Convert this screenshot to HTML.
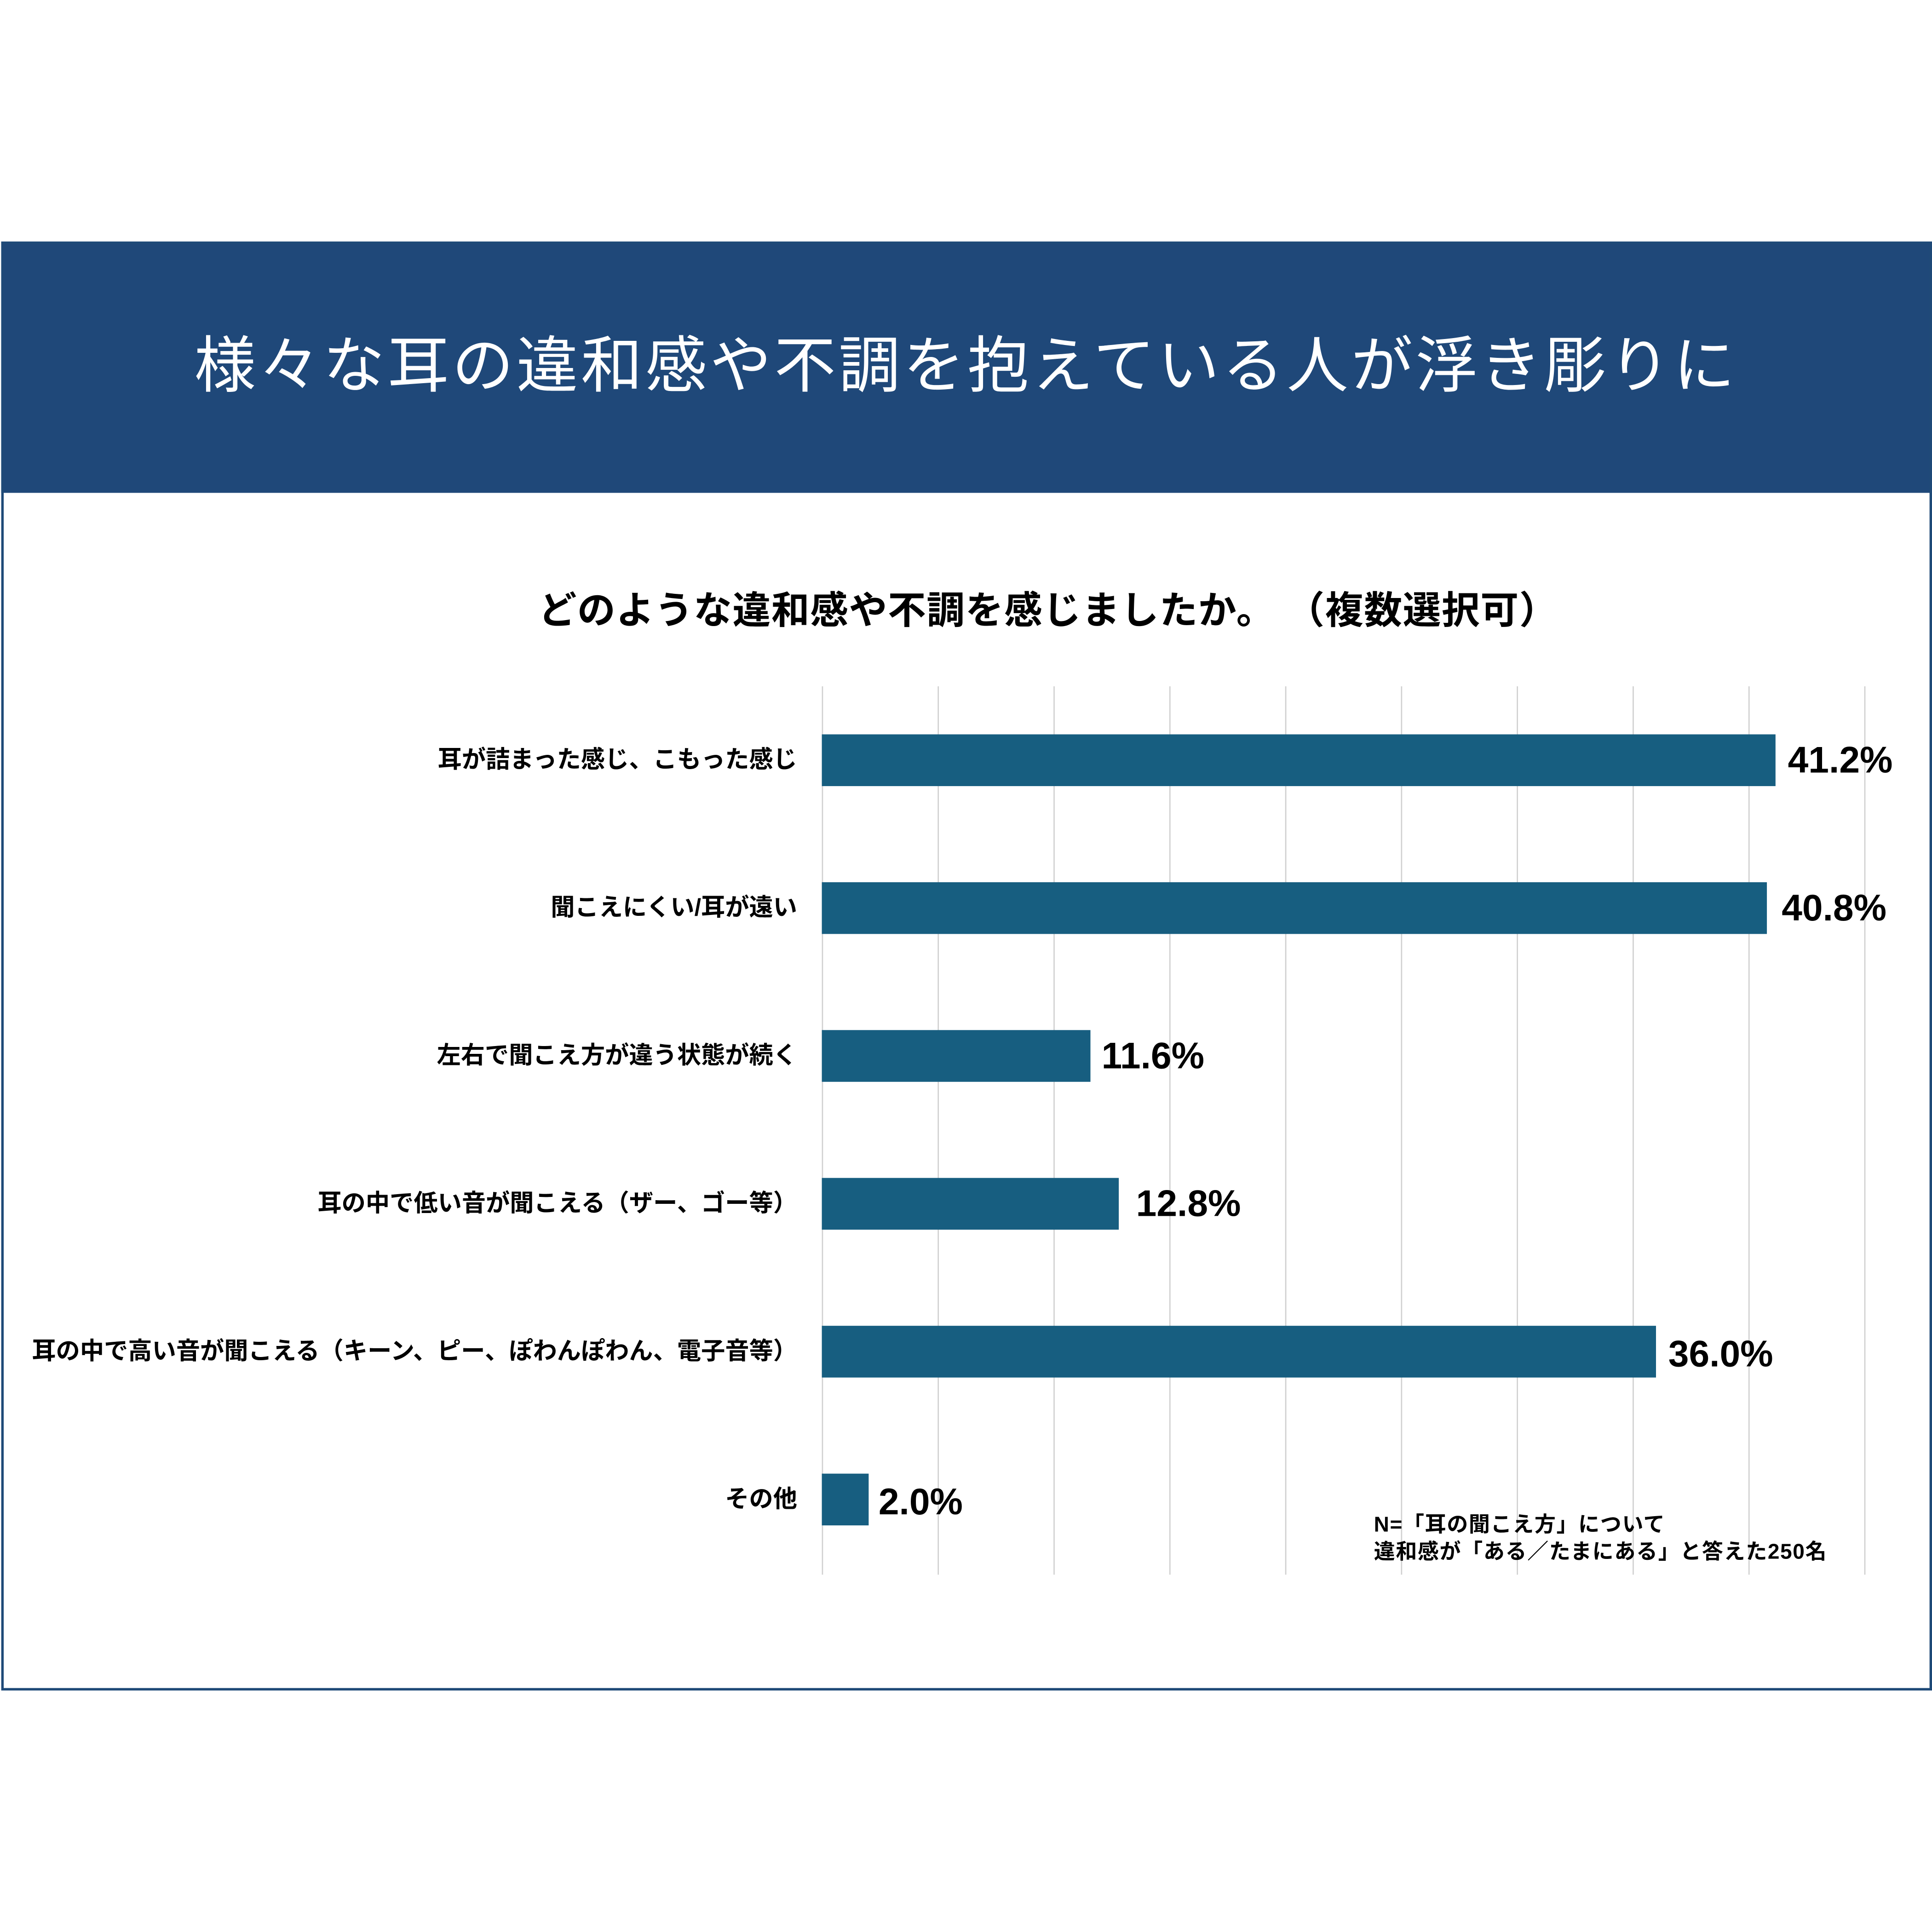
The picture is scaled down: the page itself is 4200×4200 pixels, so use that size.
<!DOCTYPE html>
<html><head><meta charset="utf-8"><style>
html,body{margin:0;padding:0;background:#fff;}
body{width:4200px;height:4200px;overflow:hidden;position:relative;}
#w{position:absolute;left:0;top:0;width:1568px;height:1568px;transform:scale(2.67857);transform-origin:0 0;font-family:"Liberation Sans","Noto Sans CJK JP",sans-serif;}
.box{position:absolute;left:1px;top:196px;width:1563px;height:1172px;border:2px solid #1f4a78;box-sizing:content-box;}
.hdr{position:absolute;left:1px;top:196px;width:1567px;height:204px;background:#1f4879;}
.title{position:absolute;left:0;width:1568px;top:262px;text-align:center;color:#fff;font-size:50px;letter-spacing:2.3px;line-height:70px;}
.sub{position:absolute;left:437px;top:474px;white-space:nowrap;font-size:31px;font-weight:bold;line-height:44px;letter-spacing:0.5px;}
.g{position:absolute;top:557px;height:721px;width:1px;background:#d0d0d0;}
.bar{position:absolute;left:667px;height:42px;background:#175e80;}
.lab{position:absolute;right:921px;font-size:19.5px;font-weight:bold;white-space:nowrap;line-height:24px;}
.val{position:absolute;font-size:30px;font-weight:bold;line-height:36px;}
.note{position:absolute;left:1115px;top:1226px;font-size:17.2px;font-weight:bold;line-height:22px;white-space:nowrap;letter-spacing:0.6px;}
</style></head><body><div id="w">
<div class="hdr"></div>
<div class="box"></div>
<div class="title">様々な耳の違和感や不調を抱えている人が浮き彫りに</div>
<div class="sub">どのような違和感や不調を感じましたか。 （複数選択可）</div>
<div class="g" style="left:667px"></div><div class="g" style="left:761px"></div><div class="g" style="left:855px"></div><div class="g" style="left:949px"></div><div class="g" style="left:1043px"></div><div class="g" style="left:1137px"></div><div class="g" style="left:1231px"></div><div class="g" style="left:1325px"></div><div class="g" style="left:1419px"></div><div class="g" style="left:1513px"></div>

<div class="bar" style="top:596px;width:774px"></div><div class="lab" style="top:605px">耳が詰まった感じ、こもった感じ</div><div class="val" style="left:1451px;top:600px">41.2%</div>
<div class="bar" style="top:716px;width:767px"></div><div class="lab" style="top:725px">聞こえにくい/耳が遠い</div><div class="val" style="left:1446px;top:720px">40.8%</div>
<div class="bar" style="top:836px;width:218px"></div><div class="lab" style="top:845px">左右で聞こえ方が違う状態が続く</div><div class="val" style="left:894px;top:840px">11.6%</div>
<div class="bar" style="top:956px;width:241px"></div><div class="lab" style="top:965px">耳の中で低い音が聞こえる（ザー、ゴー等）</div><div class="val" style="left:922px;top:960px">12.8%</div>
<div class="bar" style="top:1076px;width:677px"></div><div class="lab" style="top:1085px">耳の中で高い音が聞こえる（キーン、ピー、ぽわんぽわん、電子音等）</div><div class="val" style="left:1354px;top:1082px">36.0%</div>
<div class="bar" style="top:1196px;width:38px"></div><div class="lab" style="top:1205px">その他</div><div class="val" style="left:713px;top:1202px">2.0%</div>
<div class="note">N=「耳の聞こえ方」について<br>違和感が「ある／たまにある」と答えた250名</div>
</div></body></html>
